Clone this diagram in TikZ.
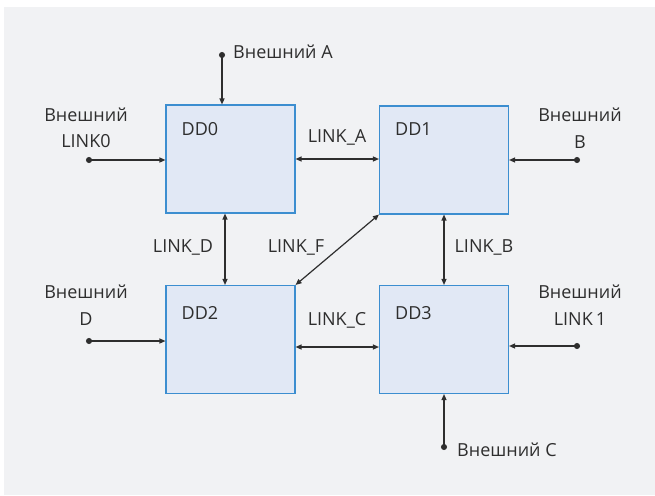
\documentclass[tikz,border=0pt]{standalone}
\usepackage{fontspec}
\setmainfont{Open Sans}
\usetikzlibrary{arrows.meta,calc}
\definecolor{bggray}{HTML}{F1F2F4}
\definecolor{boxfill}{HTML}{E1E8F5}
\definecolor{boxline}{HTML}{3C8ED0}
\definecolor{ink}{HTML}{2E2E2E}
\begin{document}
\begin{tikzpicture}[x=1pt,y=-1pt,
  font=\fontsize{18}{26.5}\selectfont, text=ink,
  ddbox/.style={draw=boxline, line width=1.1pt, fill=boxfill, minimum width=129pt, minimum height=108pt, inner sep=0pt},
  ddname/.style={anchor=west, inner sep=0pt},
  link/.style={draw=ink, line width=1.2pt, {Triangle[length=6pt,width=5pt]}-{Triangle[length=6pt,width=5pt]}},
  ext/.style={draw=ink, line width=1.2pt, {Circle[length=6pt]}-{Triangle[length=6pt,width=5pt]}},
  extlabel/.style={align=center, inner sep=0pt},
  linklabel/.style={inner sep=0pt}]
  %%%%% background %%%%%
  \useasboundingbox (0,0) rectangle (655,495);
  \fill[bggray] (4,7) rectangle (655,495);

  %%%%% boxes %%%%%
  \node[ddbox] (dd0) at (230.5,159) {};
  \node[ddbox] (dd1) at (444,160) {};
  \node[ddbox] (dd2) at (230.5,339.5) {};
  \node[ddbox] (dd3) at (444,339.5) {};
  \node[ddname] (dd0name) at ($(dd0.north west)+(16,25)$) {DD0};
  \node[ddname] (dd1name) at ($(dd1.north west)+(16,24)$) {DD1};
  \node[ddname] (dd2name) at ($(dd2.north west)+(16,28)$) {DD2};
  \node[ddname] (dd3name) at ($(dd3.north west)+(16,28)$) {DD3};

  %%%%% outside ends %%%%%
  \coordinate (exA) at (222,52);
  \coordinate (exL0) at (86,160);
  \coordinate (exB) at (580,160);
  \coordinate (exD) at (86,341);
  \coordinate (exL1) at (580,346);
  \coordinate (exC) at (444,450);

  \draw[ext] (exA) -- (dd0.north -| exA);
  \draw[ext] (exL0) -- (dd0.west |- exL0);
  \draw[ext] (exB) -- (dd1.east |- exB);
  \draw[ext] (exD) -- (dd2.west |- exD);
  \draw[ext] (exL1) -- (dd3.east |- exL1);
  \draw[ext] (exC) -- (dd3.south);

  \node[anchor=west, inner sep=0pt] (labA) at ($(exA)+(11,0)$) {Внешний A};
  \node[extlabel] (labL0) at (86,128) {Внешний\\LINK0};
  \node[extlabel] (labB) at (580,128) {Внешний\\B};
  \node[extlabel] (labD) at (86,305) {Внешний\\D};
  \node[extlabel] (labL1) at (580,305) {Внешний\\LINK\,1};
  \node[anchor=west, inner sep=0pt] (labC) at ($(exC)+(13,0)$) {Внешний C};

  %%%%% links %%%%%
  \draw[link] (dd0.east |- 0,159) -- (dd1.west |- 0,159);
  \draw[link] (dd2.east |- 0,347) -- (dd3.west |- 0,347);
  \draw[link] (dd0.south -| 225,0) -- (dd2.north -| 225,0);
  \draw[link] (dd1.south) -- (dd3.north);
  \draw[link] (dd1.south west) -- (dd2.north east);

  \node[linklabel] (labLA) at (337,137) {LINK\_A};
  \node[linklabel] (labLC) at (337,320) {LINK\_C};
  \node[linklabel] (labLD) at (183,247) {LINK\_D};
  \node[linklabel] (labLF) at (296,247) {LINK\_F};
  \node[linklabel] (labLB) at (484,247) {LINK\_B};
\end{tikzpicture}
\end{document}
